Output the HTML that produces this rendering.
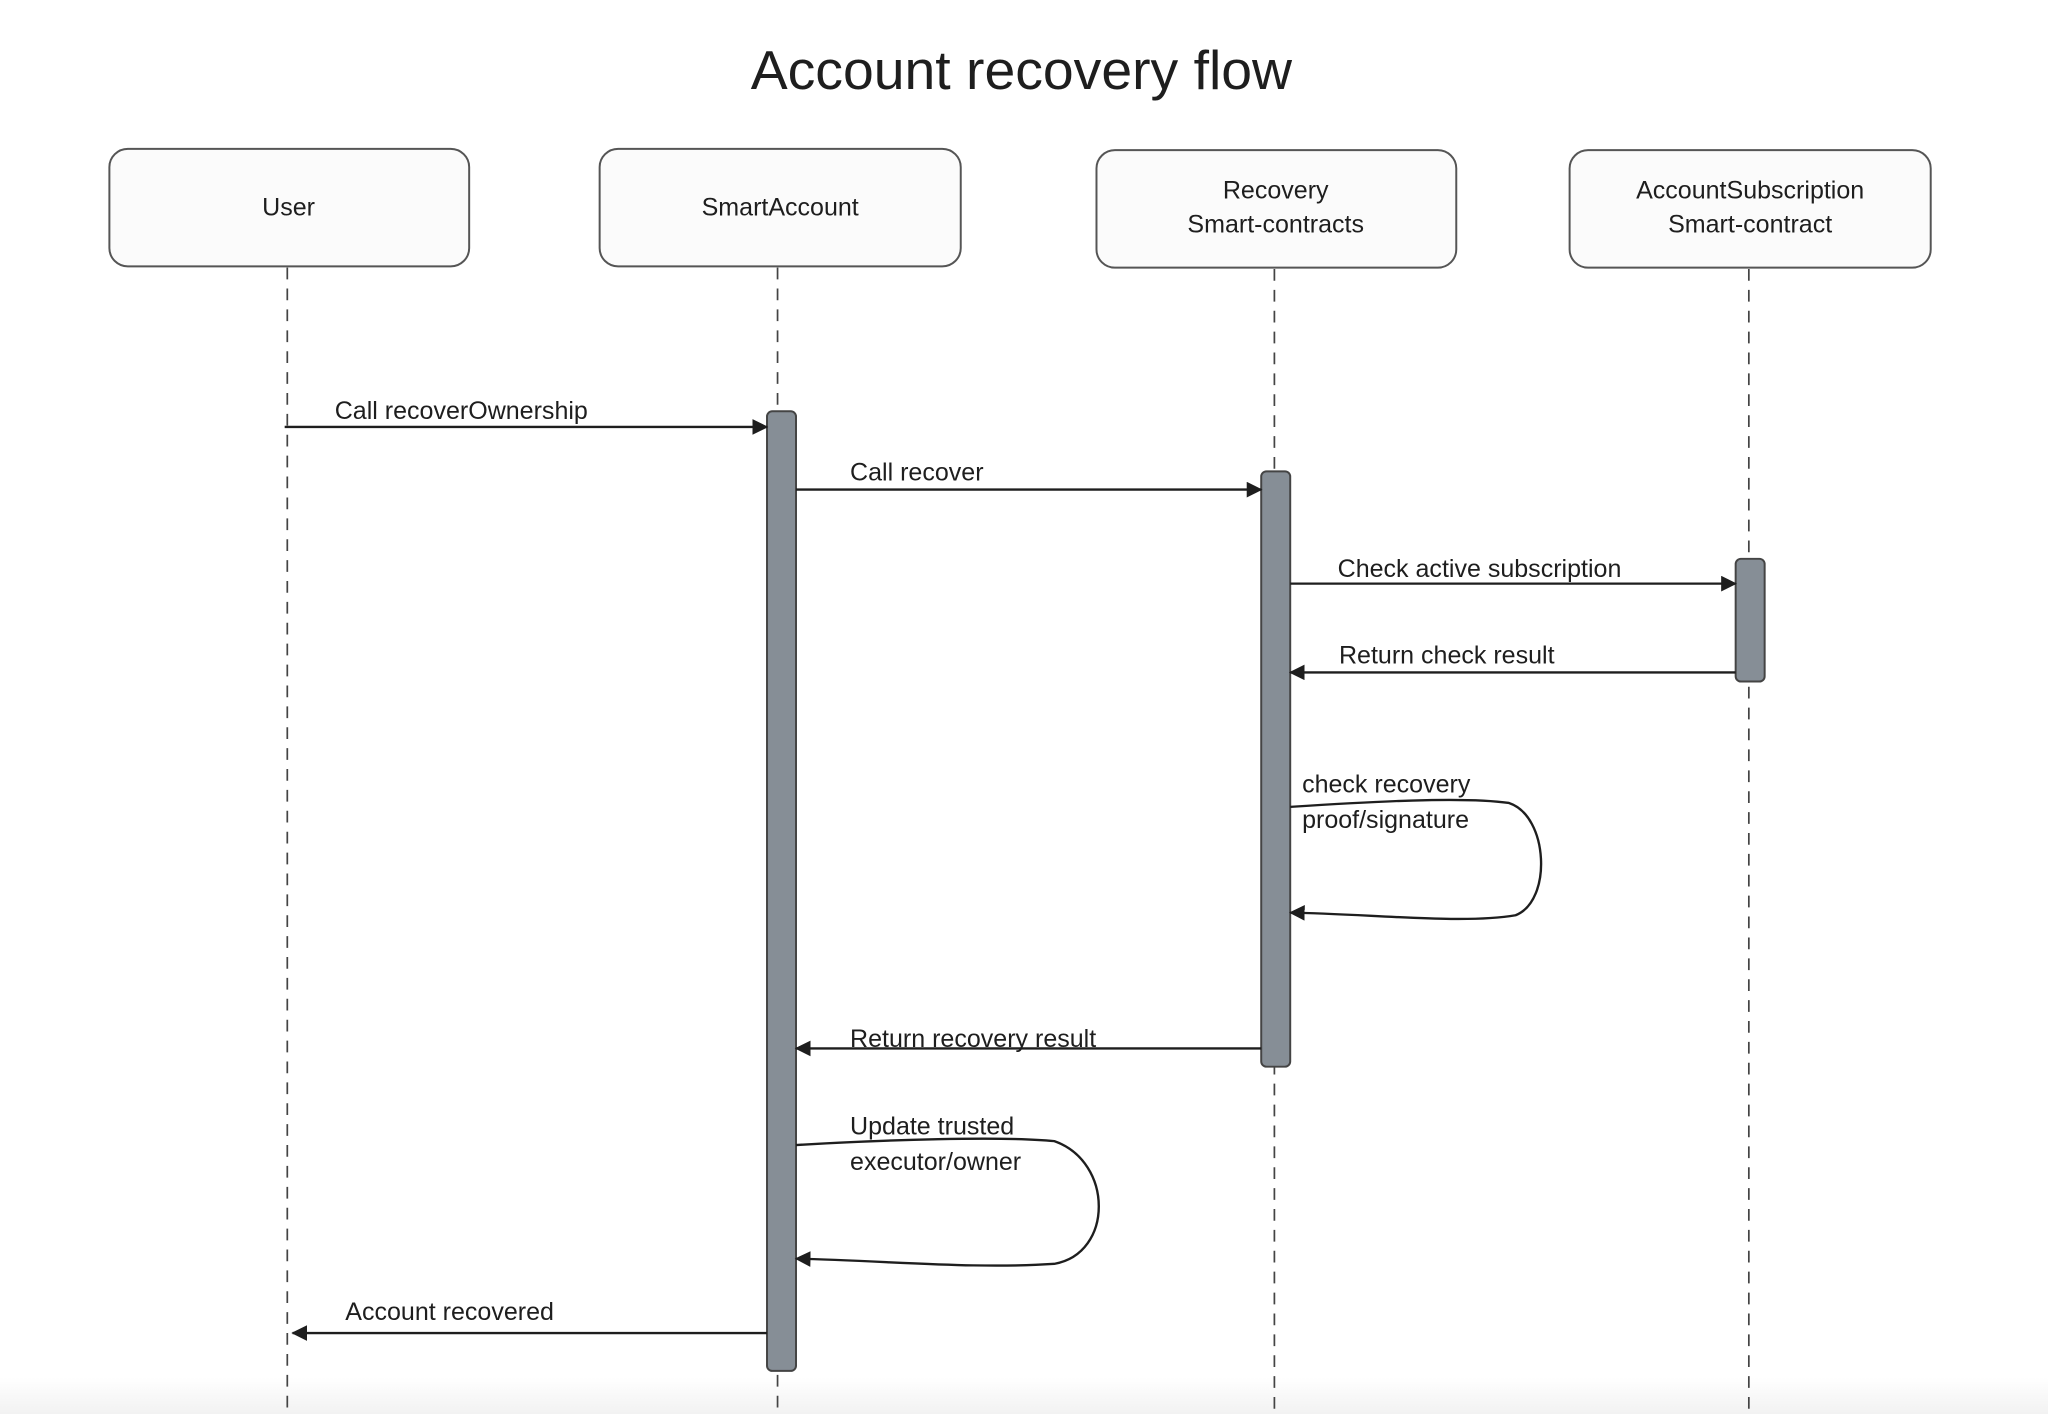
<!DOCTYPE html>
<html><head><meta charset="utf-8"><style>
html,body{margin:0;padding:0;background:#fff;width:2048px;height:1414px;overflow:hidden}
svg{display:block}
text{font-family:"Liberation Sans",sans-serif;fill:#1e1e1e}
</style></head><body>
<svg width="2048" height="1414" viewBox="0 0 1554 1083" preserveAspectRatio="none" xmlns="http://www.w3.org/2000/svg">
<defs>
<marker id="ah" markerWidth="12" markerHeight="12" refX="11" refY="6" orient="auto" markerUnits="userSpaceOnUse">
<path d="M0,0 L12,6 L0,12 Z" fill="#1e1e1e"/>
</marker>
<linearGradient id="bot" x1="0" y1="0" x2="0" y2="1"><stop offset="0" stop-color="#fff"/><stop offset="1" stop-color="#f2f2f2"/></linearGradient>
</defs>
<rect x="0" y="1055" width="1554" height="28" fill="url(#bot)"/>
<text x="775" y="68" font-size="42" text-anchor="middle">Account recovery flow</text>
<g fill="#fbfbfb" stroke="#555" stroke-width="1.5">
<rect x="83" y="114" width="273" height="90" rx="14"/>
<rect x="455" y="114" width="274" height="90" rx="14"/>
<rect x="832" y="115" width="273" height="90" rx="14"/>
<rect x="1191" y="115" width="274" height="90" rx="14"/>
</g>
<g font-size="19" text-anchor="middle" style="fill:#333">
<text x="219" y="165">User</text>
<text x="592" y="165">SmartAccount</text>
<text x="968" y="152">Recovery</text>
<text x="968" y="178">Smart-contracts</text>
<text x="1328" y="152">AccountSubscription</text>
<text x="1328" y="178">Smart-contract</text>
</g>
<g stroke="#444" stroke-width="1.3" stroke-dasharray="9,7">
<line x1="218" y1="205" x2="218" y2="1083"/>
<line x1="590" y1="205" x2="590" y2="1083"/>
<line x1="967" y1="206" x2="967" y2="1083"/>
<line x1="1327" y1="206" x2="1327" y2="1083"/>
</g>
<g fill="#868e96" stroke="#444" stroke-width="1.5">
<rect x="582" y="315" width="22" height="735" rx="4"/>
<rect x="957" y="361" width="22" height="456" rx="4"/>
<rect x="1317" y="428" width="22" height="94" rx="4"/>
</g>
<g stroke="#1e1e1e" stroke-width="1.8" fill="none" marker-end="url(#ah)">
<line x1="216" y1="327" x2="582" y2="327"/>
<line x1="604" y1="375" x2="957" y2="375"/>
<line x1="979" y1="447" x2="1317" y2="447"/>
<line x1="1317" y1="515" x2="979" y2="515"/>
<path d="M979,618 C1040,614 1110,610 1145,615 C1175,625 1178,690 1150,701 C1110,708 1040,700 979,699"/>
<line x1="957" y1="803" x2="604" y2="803"/>
<path d="M604,877 C670,873 760,870 800,874 C845,890 845,960 800,968 C740,972 680,966 604,964"/>
<line x1="582" y1="1021" x2="222" y2="1021"/>
</g>
<g font-size="19">
<text x="254" y="321">Call recoverOwnership</text>
<text x="645" y="368">Call recover</text>
<text x="1015" y="442">Check active subscription</text>
<text x="1016" y="508">Return check result</text>
<text x="988" y="607">check recovery</text>
<text x="988" y="634">proof/signature</text>
<text x="645" y="802">Return recovery result</text>
<text x="645" y="869">Update trusted</text>
<text x="645" y="896">executor/owner</text>
<text x="262" y="1011">Account recovered</text>
</g>
</svg>
</body></html>
